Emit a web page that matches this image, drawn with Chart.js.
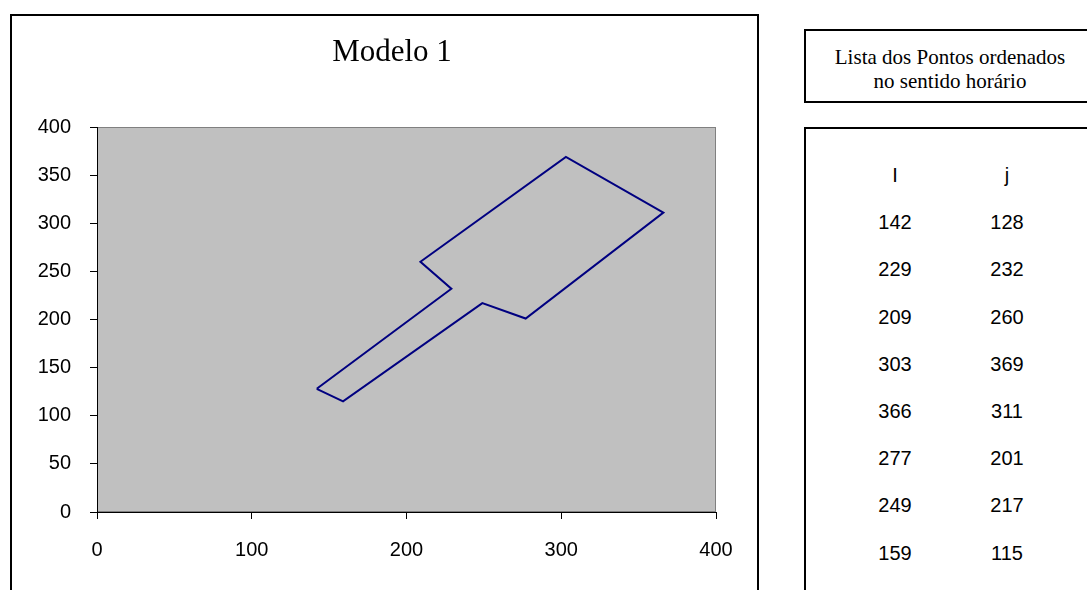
<!DOCTYPE html>
<html lang="pt">
<head>
    <meta charset="UTF-8">
    <title>Modelo 1</title>
    <script src="https://cdn.jsdelivr.net/npm/chart.js"></script>
    <style>
        body {
            margin: 0;
            width: 1087px;
            height: 590px;
            overflow: hidden;
            background: #fff;
            font-family: "Liberation Sans", Arial, sans-serif;
        }
        #moldura {
            position: absolute;
            left: 10px;
            top: 14px;
            width: 745px;
            height: 620px;
            border: 2px solid #000;
        }
        #grafico {
            position: absolute;
            left: 0;
            top: 0;
        }
        #caixaTitulo {
            position: absolute;
            left: 804px;
            top: 29px;
            width: 292px;
            height: 74px;
            box-sizing: border-box;
            border: 2px solid #000;
            padding-top: 14px;
            font-family: "Liberation Serif", "Times New Roman", serif;
            font-size: 21px;
            line-height: 24px;
            text-align: center;
        }
        #tabela {
            position: absolute;
            left: 804px;
            top: 127px;
            width: 292px;
            height: 520px;
            box-sizing: border-box;
            border: 2px solid #000;
        }
        .cel {
            position: absolute;
            width: 80px;
            height: 24px;
            line-height: 24px;
            font-size: 20px;
            text-align: center;
            color: #000;
        }
    </style>
</head>
<body>

    <div id="moldura"></div>
    <canvas id="grafico" width="760" height="590"></canvas>

    <div id="caixaTitulo">Lista dos Pontos ordenados<br>no sentido horário</div>
    <div id="tabela"></div>

    <script>
        // pontos do contorno (sentido horário)
        const pontosI = [142, 229, 209, 303, 366, 277, 249, 159];
        const pontosJ = [128, 232, 260, 369, 311, 201, 217, 115];
        const cabecalho = ['I', 'j'];
        const titulo = 'Modelo 1';

        // eixos
        const eixoMin = 0, eixoMax = 400;
        const passoX = 100, passoY = 50;

        const fonteEixo = { family: '"Liberation Sans", Arial, sans-serif', size: 20 };

        // fecha o polígono voltando ao primeiro ponto
        const contorno = pontosI.map((x, k) => ({ x: x, y: pontosJ[k] }));
        contorno.push({ x: pontosI[0], y: pontosJ[0] });

        // fundo cinza da área de plotagem
        const fundoPlotagem = {
            id: 'fundoPlotagem',
            beforeDraw(chart) {
                const a = chart.chartArea;
                const ctx = chart.ctx;
                ctx.save();
                ctx.fillStyle = '#C0C0C0';
                ctx.fillRect(a.left, a.top, a.right - a.left, a.bottom - a.top);
                ctx.strokeStyle = '#808080';
                ctx.lineWidth = 1;
                ctx.strokeRect(a.left + 0.5, a.top + 0.5, a.right - a.left - 1, a.bottom - a.top - 1);
                ctx.restore();
            }
        };

        // título centrado na moldura (um pouco à esquerda do centro da área)
        const tituloModelo = {
            id: 'tituloModelo',
            afterDraw(chart) {
                const ctx = chart.ctx;
                ctx.save();
                ctx.fillStyle = '#000';
                ctx.font = '31px "Liberation Serif", "Times New Roman", serif';
                ctx.textAlign = 'center';
                ctx.textBaseline = 'middle';
                ctx.fillText(titulo, 392, 53);
                ctx.restore();
            }
        };

        new Chart(document.getElementById('grafico'), {
            type: 'scatter',
            data: {
                datasets: [{
                    data: contorno,
                    showLine: true,
                    borderColor: '#000080',
                    borderWidth: 2,
                    pointRadius: 0,
                    tension: 0,
                    fill: false
                }]
            },
            options: {
                responsive: false,
                animation: false,
                layout: { padding: { left: 20, right: 44, top: 127, bottom: 0 } },
                plugins: {
                    legend: { display: false },
                    tooltip: { enabled: false },
                    title: { display: false }
                },
                scales: {
                    x: {
                        type: 'linear',
                        min: eixoMin,
                        max: eixoMax,
                        ticks: { stepSize: passoX, color: '#000', font: fonteEixo, padding: 19, maxRotation: 0 },
                        grid: { drawOnChartArea: false, tickLength: 7, color: '#000' },
                        border: { color: '#000', width: 1 },
                        afterFit(s) { s.height = 78; }
                    },
                    y: {
                        min: eixoMin,
                        max: eixoMax,
                        ticks: { stepSize: passoY, color: '#000', font: fonteEixo, padding: 19 },
                        grid: { drawOnChartArea: false, tickLength: 7, color: '#000' },
                        border: { color: '#000', width: 1 },
                        afterFit(s) { s.width = 77; }
                    }
                }
            },
            plugins: [fundoPlotagem, tituloModelo]
        });

        // tabela de pontos à direita
        const tabela = document.getElementById('tabela');
        const colunasX = [895, 1007];
        const linha0 = 175, passoLinha = 47.2;
        function celula(texto, col, lin) {
            const d = document.createElement('div');
            d.className = 'cel';
            d.textContent = texto;
            d.style.left = (colunasX[col] - 40 - 806) + 'px';
            d.style.top = (linha0 + passoLinha * lin - 12 - 129) + 'px';
            tabela.appendChild(d);
        }
        cabecalho.forEach((t, c) => celula(t, c, 0));
        pontosI.forEach((v, k) => {
            celula(v, 0, k + 1);
            celula(pontosJ[k], 1, k + 1);
        });
    </script>

</body>
</html>
